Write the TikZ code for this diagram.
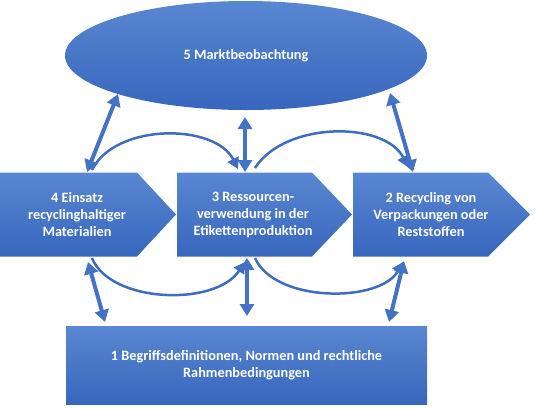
\documentclass[tikz,border=0pt]{standalone}
\usepackage{fontspec}
\setmainfont{Carlito}
\usetikzlibrary{arrows.meta,shapes.geometric}
\definecolor{boxtop}{HTML}{5A87D1}
\definecolor{boxbot}{HTML}{3766BD}
\definecolor{arrowblue}{HTML}{4472C4}
\definecolor{curveblue}{HTML}{3F6CC0}
\begin{document}
\begin{tikzpicture}[x=1pt,y=-1pt,
  shapefill/.style={top color=boxtop,bottom color=boxbot,draw=none},
  lbl/.style={font=\fontsize{14.3pt}{17pt}\selectfont\bfseries,text=white,align=center,inner sep=0pt},
  dbl/.style={draw=arrowblue,line width=4pt,{Triangle[width=14pt,length=12pt]}-{Triangle[width=14pt,length=12pt]}},
  curv/.style={draw=curveblue,line width=2.5pt,-{Triangle[width=12pt,length=11pt]}}]
\useasboundingbox (0,0) rectangle (535,408);

% ellipse
\node[ellipse,shapefill,minimum width=362pt,minimum height=109pt,inner sep=0pt,outer sep=0pt,lbl] (mkt) at (246,55.5) {5 Marktbeobachtung};

% chevrons
\path[shapefill] (0,172.5) -- (137,172.5) -- (176,214.5) -- (137,256.5) -- (0,256.5) -- cycle;
\path[shapefill] (177,172.5) -- (312,172.5) -- (352,214.5) -- (312,256.5) -- (177,256.5) -- cycle;
\path[shapefill] (353,172.5) -- (488,172.5) -- (530,214.5) -- (488,256.5) -- (353,256.5) -- cycle;
\node[lbl] (c1) at (77,215) {4 Einsatz\\recyclinghaltiger\\Materialien};
\node[lbl] (c2) at (253,215) {3 Ressourcen-\\verwendung in der\\Etikettenproduktion};
\node[lbl] (c3) at (431,215) {2 Recycling von\\Verpackungen oder\\Reststoffen};

% bottom rectangle
\node[rectangle,shapefill,minimum width=361pt,minimum height=78pt,inner sep=0pt,lbl] (rb) at (246.5,365) {1 Begriffsdefinitionen, Normen und rechtliche\\Rahmenbedingungen};

% connector end points
\coordinate (tl1) at (87,172);  \coordinate (tl2) at (118,94);
\coordinate (tv1) at (245,172); \coordinate (tv2) at (245,117);
\coordinate (tr1) at (413,172); \coordinate (tr2) at (390,93);
\coordinate (ta1) at (92,170);  \coordinate (ta2) at (238,169);
\coordinate (tb1) at (255,168); \coordinate (tb2) at (408,167);
\coordinate (bl1) at (88,262);  \coordinate (bl2) at (105,322);
\coordinate (bv1) at (247,258); \coordinate (bv2) at (247,316);
\coordinate (br1) at (404,261); \coordinate (br2) at (389,322);
\coordinate (ba1) at (92,258);  \coordinate (ba2) at (245,262);
\coordinate (bb1) at (255,258); \coordinate (bb2) at (403,262);

% curved arrows
\draw[curv] (ta1) .. controls (115,123) and (215,123) .. (ta2);
\draw[curv] (tb1) .. controls (285,121) and (385,121) .. (tb2);
\draw[curv] (ba1) .. controls (110,303) and (215,307) .. (ba2);
\draw[curv] (bb1) .. controls (275,303) and (380,303) .. (bb2);

% straight double arrows
\draw[dbl] (tl1) -- (tl2);
\draw[dbl] (tv1) -- (tv2);
\draw[dbl] (tr1) -- (tr2);
\draw[dbl] (bl1) -- (bl2);
\draw[dbl] (bv1) -- (bv2);
\draw[dbl] (br1) -- (br2);
\end{tikzpicture}
\end{document}
